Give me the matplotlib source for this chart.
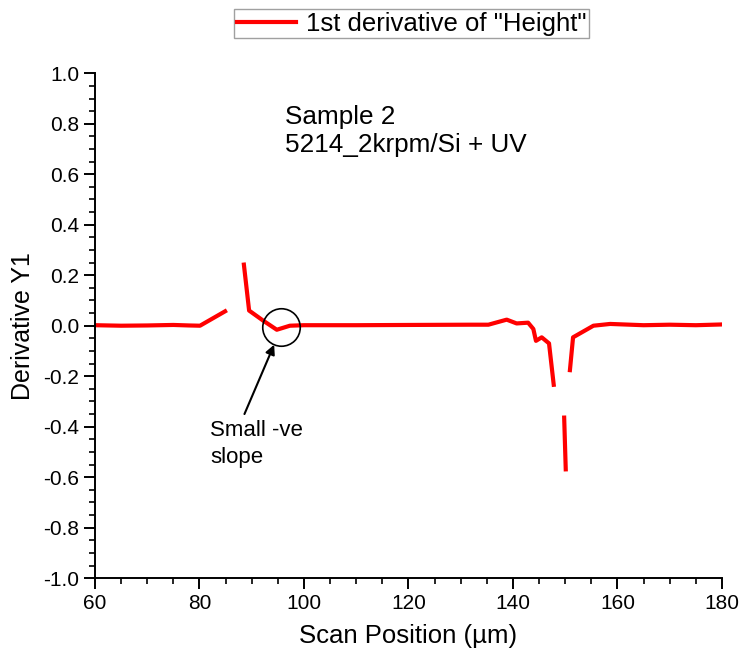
import matplotlib
matplotlib.use("Agg")
import matplotlib.pyplot as plt
import numpy as np
from matplotlib.ticker import MultipleLocator, FormatStrFormatter

plt.rcParams['font.family'] = ['Liberation Sans', 'DejaVu Sans']
plt.rcParams['axes.unicode_minus'] = False

# scan position (um) and 1st derivative of height; NaN = gap in the curve
pos = [60, 65, 70, 75, 78, 80.1, 84.9, np.nan,
       88.5, 89.5, 92.2, 94.8, 97.3, 100, 110, 120, 131.8, 135.3, 138.8,
       140.7, 142.9, 143.9, 144.4, 145.5, 146.9, 147.8, np.nan,
       149.8, 150.1, np.nan,
       150.9, 151.5, 155.4, 158.6, 165, 170, 175, 180]
deriv = [0.002, 0.0, 0.001, 0.003, 0.001, 0.0, 0.057, np.nan,
         0.242, 0.06, 0.02, -0.016, 0.0, 0.002, 0.002, 0.003, 0.004, 0.004, 0.024,
         0.009, 0.012, -0.013, -0.06, -0.046, -0.07, -0.234, np.nan,
         -0.364, -0.569, np.nan,
         -0.176, -0.046, 0.0, 0.007, 0.002, 0.004, 0.002, 0.005]

fig = plt.figure(figsize=(7.42, 6.6), dpi=100)
ax = fig.add_axes([0.128, 0.124, 0.845, 0.765])

line, = ax.plot(pos, deriv, color='red', lw=3, label='1st derivative of "Height"')

ax.set_xlim(60, 180)
ax.set_ylim(-1.0, 1.0)
ax.xaxis.set_major_locator(MultipleLocator(20))
ax.xaxis.set_minor_locator(MultipleLocator(5))
ax.yaxis.set_major_locator(MultipleLocator(0.2))
ax.yaxis.set_minor_locator(MultipleLocator(0.05))
ax.yaxis.set_major_formatter(FormatStrFormatter('%.1f'))

for s in ['top', 'right']:
    ax.spines[s].set_visible(False)
for s in ['left', 'bottom']:
    ax.spines[s].set_linewidth(1.4)
ax.tick_params(which='major', direction='out', length=8, width=1.4, labelsize=15)
ax.tick_params(which='minor', direction='out', length=4.5, width=1.2)

ax.set_xlabel('Scan Position (µm)', fontsize=18.5, labelpad=8)
ax.set_ylabel('Derivative Y1', fontsize=18, labelpad=6)

ax.text(96.3, 0.875, 'Sample 2\n5214_2krpm/Si + UV', fontsize=18.8, va='top',
        ha='left', linespacing=1.2)

# circle marking the small negative slope
ax.plot([95.6], [-0.004], marker='o', markersize=27, markerfacecolor='none',
        markeredgecolor='black', markeredgewidth=1.2)
ax.annotate('', xy=(94.5, -0.065), xytext=(88.4, -0.36),
            arrowprops=dict(arrowstyle='-|>', color='black', lw=1.5,
                            mutation_scale=14))
ax.text(82.0, -0.375, 'Small -ve\nslope', fontsize=16, va='top', ha='left',
        linespacing=1.35)

leg = fig.legend(handles=[line], loc='upper center', bbox_to_anchor=(0.555, 0.998),
                 fontsize=18.5, frameon=True, fancybox=False, handlelength=2.3,
                 borderpad=0.1, handletextpad=0.4, borderaxespad=0.3)
leg.get_frame().set_edgecolor('#888888')
leg.get_frame().set_linewidth(1.0)

fig.savefig('out.png', dpi=100)
